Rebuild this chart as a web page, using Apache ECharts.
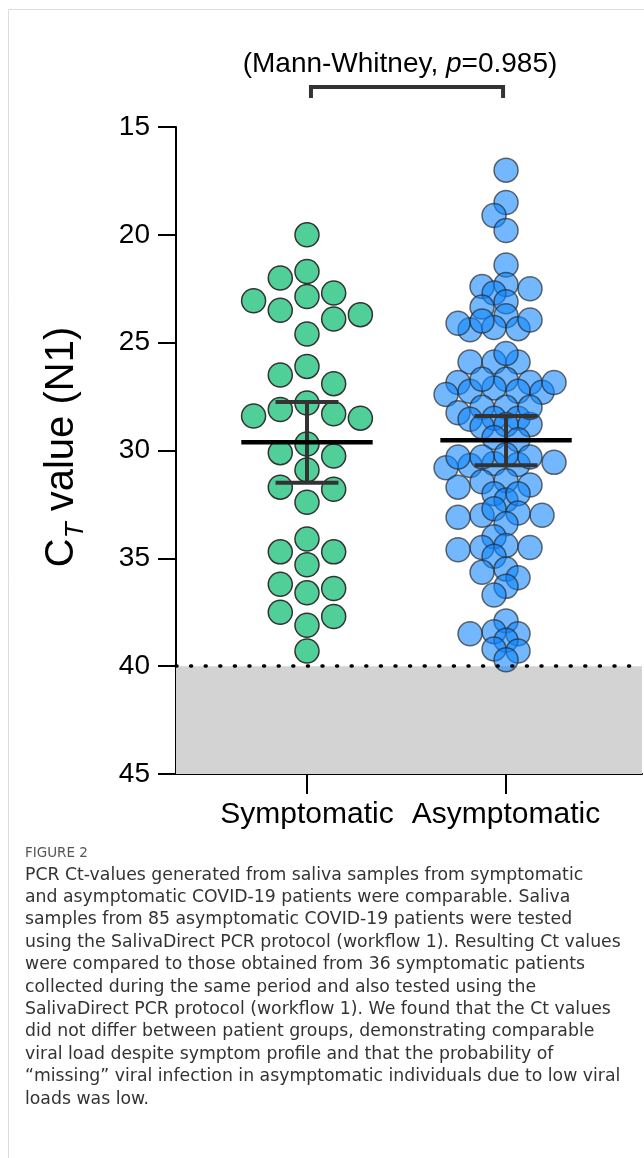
<!DOCTYPE html>
<html><head><meta charset="utf-8">
<script src="https://cdn.jsdelivr.net/npm/echarts@6/dist/echarts.min.js"></script>
<style>html,body{margin:0;padding:0;background:#fff}#c{width:644px;height:1158px}</style>
</head><body><div id="c"></div>
<script>
// ---------- data ----------
const categories = ['Symptomatic', 'Asymptomatic'];
const symptomatic = [20.0, 21.7, 22.86, 22.0, 22.7, 23.06, 23.5, 23.7, 23.9, 24.6,
  26.5, 26.1, 26.9, 28.3, 28.4, 28.1, 27.8, 28.5, 29.7,
  30.26, 30.1, 30.9, 31.8, 31.7, 32.4, 34.1, 34.7, 34.7, 35.3,
  36.2, 36.6, 36.4, 37.5, 38.1, 37.7, 39.3];
const asymptomatic = [17.0, 18.5, 19.1, 19.8, 21.4, 22.4, 22.5, 22.3, 22.7, 23.1, 23.35, 23.75,
  24.4, 24.1, 24.3, 24.35, 23.95, 24.0,
  25.9, 25.9, 25.5, 25.9,
  26.7, 26.85, 26.85, 27.1, 27.25, 27.25, 26.7, 27.3, 27.4, 26.85,
  28.0, 28.25, 28.0, 28.5, 28.55, 28.5, 28.8, 28.8, 28.9, 28.0,
  29.5, 29.4,
  30.65, 30.7, 30.6, 30.2, 30.3, 30.3, 30.55, 30.8, 30.3,
  31.4, 31.45, 31.6, 31.7, 32.0, 32.3, 32.0,
  33.0, 33.0, 32.7, 32.9, 33.1, 33.4,
  34.0, 34.5, 34.4, 34.5, 34.6, 34.9,
  35.5, 35.65, 35.9, 36.3, 36.7,
  37.9, 38.5, 38.4, 38.8, 38.5, 39.3, 39.2, 39.7];
const means = [29.62, 29.52];
const ciUpper = [27.75, 28.4];   // upper end of 95% CI bar on screen (lower Ct)
const ciLower = [31.5, 30.68];
const yMin = 15, yMax = 45, yStep = 5;
const lodValue = 40;
const testLabel = ['(Mann-Whitney, ', 'p', '=0.985)'];
const captionHead = 'FIGURE 2';
const captionLines = [
  'PCR Ct-values generated from saliva samples from symptomatic',
  'and asymptomatic COVID-19 patients were comparable. Saliva',
  'samples from 85 asymptomatic COVID-19 patients were tested',
  'using the SalivaDirect PCR protocol (workflow 1). Resulting Ct values',
  'were compared to those obtained from 36 symptomatic patients',
  'collected during the same period and also tested using the',
  'SalivaDirect PCR protocol (workflow 1). We found that the Ct values',
  'did not differ between patient groups, demonstrating comparable',
  'viral load despite symptom profile and that the probability of',
  '\u201Cmissing\u201D viral infection in asymptomatic individuals due to low viral',
  'loads was low.'
];

// ---------- chart ----------
const FONT = '"Liberation Sans", Arial, sans-serif';
const CAPFONT = '"DejaVu Sans", sans-serif';
const chart = echarts.init(document.getElementById('c'), null, {renderer: 'canvas'});

const option = {
  animation: false,
  backgroundColor: '#fff',
  grid: {left: 176, right: 2, top: 127, bottom: 384, containLabel: false},
  xAxis: {
    type: 'value', min: 0.342, max: 2.683,
    splitLine: {show: false},
    axisLine: {show: true, onZero: false, lineStyle: {color: '#000', width: 2}},
    axisTick: {show: true, length: 20, lineStyle: {color: '#000', width: 2}, customValues: [1, 2]},
    axisLabel: {show: true, customValues: [1, 2], margin: 26, fontFamily: FONT, fontSize: 30, color: '#000',
      formatter: v => categories[Math.round(v) - 1] || ''}
  },
  yAxis: {
    type: 'value', inverse: true, min: yMin, max: yMax, interval: yStep,
    splitLine: {show: false},
    axisLine: {show: true, onZero: false, lineStyle: {color: '#000', width: 2}},
    axisTick: {show: true, length: 18, lineStyle: {color: '#000', width: 2}},
    axisLabel: {margin: 26, fontFamily: FONT, fontSize: 28, color: '#000'}
  },
  series: [
    {
      type: 'scatter', data: [], z: 1, silent: true,
      markArea: {silent: true, itemStyle: {color: '#d3d3d3'}, data: [[{yAxis: lodValue}, {yAxis: yMax}]]},
      markLine: {silent: true, symbol: 'none', label: {show: false},
        lineStyle: {color: '#000', width: 3.5, type: [1, 13.6], cap: 'round'},
        data: [{yAxis: lodValue}]}
    },
    {type: 'scatter', name: categories[0], data: [], z: 3, symbol: 'circle', symbolSize: 24,
      itemStyle: {color: '#50CF99', borderColor: '#333', borderWidth: 1.5, opacity: 1}},
    {type: 'scatter', name: categories[1], data: [], z: 3, symbol: 'circle', symbolSize: 24,
      itemStyle: {color: 'rgba(13,132,255,0.72)', borderColor: 'rgba(40,40,40,0.85)', borderWidth: 1.5}},
    {
      type: 'custom', z: 5, silent: true,
      data: categories.map((c, i) => [i + 1, means[i], ciUpper[i], ciLower[i]]),
      renderItem: function (params, api) {
        const x = api.value(0);
        const pm = api.coord([x, api.value(1)]);
        const pu = api.coord([x, api.value(2)]);
        const pl = api.coord([x, api.value(3)]);
        const halfMean = api.size([0.33, 0])[0];
        const halfCap = api.size([0.158, 0])[0];
        return {type: 'group', children: [
          {type: 'line', shape: {x1: pu[0], y1: pu[1], x2: pl[0], y2: pl[1]}, style: {stroke: '#333', lineWidth: 4}},
          {type: 'line', shape: {x1: pu[0] - halfCap, y1: pu[1], x2: pu[0] + halfCap, y2: pu[1]}, style: {stroke: '#333', lineWidth: 4}},
          {type: 'line', shape: {x1: pl[0] - halfCap, y1: pl[1], x2: pl[0] + halfCap, y2: pl[1]}, style: {stroke: '#333', lineWidth: 4}},
          {type: 'line', shape: {x1: pm[0] - halfMean, y1: pm[1], x2: pm[0] + halfMean, y2: pm[1]}, style: {stroke: '#000', lineWidth: 4.5}}
        ]};
      }
    }
  ]
};
chart.setOption(option);

// beeswarm layout computed in pixel space from the axes' own scales
const a = chart.convertToPixel({gridIndex: 0}, [1, 20]);
const b = chart.convertToPixel({gridIndex: 0}, [2, 25]);
const pxPerX = b[0] - a[0];
const pxPerY = (b[1] - a[1]) / 5;

function swarm(values, slotPx, minDist) {
  const order = values.map((v, i) => i).sort((i, j) => values[i] - values[j]);
  const placed = [];
  const offs = new Array(values.length);
  for (const i of order) {
    const y = values[i] * pxPerY;
    for (let k = 0; k < 60; k++) {
      const s = k === 0 ? 0 : (k % 2 ? -Math.ceil(k / 2) : Math.ceil(k / 2));
      const x = s * slotPx;
      if (placed.every(p => Math.hypot(p.x - x, p.y - y) >= minDist)) {
        placed.push({x, y}); offs[i] = x; break;
      }
    }
  }
  return offs;
}
const offS = swarm(symptomatic, 26.7, 24);
const offA = swarm(asymptomatic, 12, 13.5);

const pL = chart.convertToPixel({gridIndex: 0}, [1.02, yMin]);
const pR = chart.convertToPixel({gridIndex: 0}, [1.985, yMin]);
const bracketY = pL[1] - 40;

chart.setOption({
  series: [
    {},
    {data: symptomatic.map((v, i) => [1 + offS[i] / pxPerX, v])},
    {data: asymptomatic.map((v, i) => [2 + offA[i] / pxPerX, v])},
    {}
  ],
  graphic: [
    {type: 'line', shape: {x1: 8.5, y1: 9.5, x2: 644, y2: 9.5}, style: {stroke: '#dcdcdc', lineWidth: 1}},
    {type: 'line', shape: {x1: 8.5, y1: 9.5, x2: 8.5, y2: 1158}, style: {stroke: '#dcdcdc', lineWidth: 1}},
    {type: 'polyline', shape: {points: [[pL[0], bracketY + 11], [pL[0], bracketY], [pR[0], bracketY], [pR[0], bracketY + 11]]},
      style: {stroke: '#333', lineWidth: 4, fill: null, lineJoin: 'miter'}},
    {type: 'text', x: 400, y: 64, style: {
      text: '{n|' + testLabel[0] + '}{i|' + testLabel[1] + '}{n|' + testLabel[2] + '}',
      align: 'center', verticalAlign: 'middle',
      rich: {n: {fontFamily: FONT, fontSize: 28, fill: '#000'}, i: {fontFamily: FONT, fontSize: 28, fontStyle: 'italic', fill: '#000'}}
    }},
    {type: 'text', x: 62, y: 447, rotation: Math.PI / 2, style: {
      text: '{c|C}{t|T}{c| value (N1)}',
      align: 'center', verticalAlign: 'middle',
      rich: {
        c: {fontFamily: FONT, fontSize: 40, fill: '#000', lineHeight: 54, verticalAlign: 'middle'},
        t: {fontFamily: FONT, fontSize: 26, fontStyle: 'italic', fill: '#000', lineHeight: 26, verticalAlign: 'bottom'}
      }
    }},
    {type: 'text', x: 25, y: 853, style: {text: captionHead, fontFamily: CAPFONT, fontSize: 13.5,
      fill: '#555', verticalAlign: 'middle', align: 'left'}},
    {type: 'text', x: 25, y: 864, style: {text: captionLines.join('\n'), fontFamily: CAPFONT, fontSize: 17.3,
      lineHeight: 22.4, fill: '#333', verticalAlign: 'top', align: 'left'}}
  ]
});
</script></body></html>
